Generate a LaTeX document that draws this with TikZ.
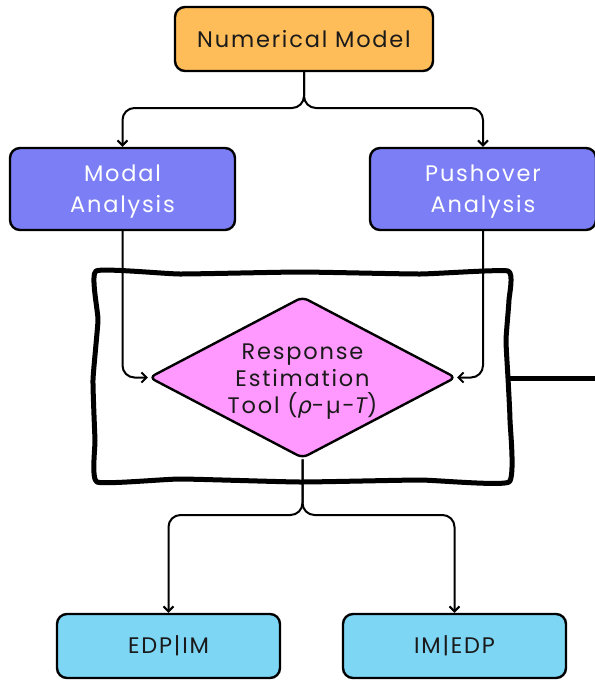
\documentclass[tikz,border=0pt]{standalone}
\usepackage{fontspec}
\setmainfont{Poppins}[LetterSpace=8]
\newfontfamily\greekfont{DejaVu Sans}[LetterSpace=8]
\usetikzlibrary{shapes.geometric,arrows.meta}

\definecolor{modelfill}{HTML}{FFBD59}
\definecolor{analysisfill}{HTML}{7B7EF4}
\definecolor{toolfill}{HTML}{FF99FF}
\definecolor{outfill}{HTML}{7ED6F5}
\definecolor{ink}{HTML}{1A1A1A}

% raises the top of the first line so that the block sits a bit lower
\newcommand{\toppad}[1]{\rule{0pt}{#1}}

\tikzset{
  box/.style={draw=black, line width=2.4pt, rounded corners=10pt, inner sep=0pt,
    align=center, text=ink, font=\fontsize{22.5}{31}\selectfont},
  modelbox/.style={box, fill=modelfill},
  analysisbox/.style={box, fill=analysisfill, text=white},
  outbox/.style={box, fill=outfill},
  toolbox/.style={draw=black, line width=2.4pt, shape=diamond, aspect=1.9,
    rounded corners=6pt, inner sep=0pt, fill=toolfill, align=center, text=ink,
    font=\fontsize{22.5}{27}\selectfont},
  link/.style={draw=black, line width=2pt, rounded corners=12pt,
    -{Straight Barb[length=5pt,width=10pt,line width=2pt]}},
  frame/.style={draw=black, line width=5pt, line join=round},
}

\begin{document}
\begin{tikzpicture}[x=1pt,y=-1pt]
\useasboundingbox (0,0) rectangle (595,681);

% hand-drawn frame around the estimation tool
\draw[frame] plot[smooth cycle, tension=0.25] coordinates {
  (96,271) (180,274) (300,272) (420,274) (508,271)
  (509,300) (506,340) (508,378) (510,420) (509,482)
  (420,480) (300,482) (180,479) (97,482)
  (95,440) (93,380) (98,320)};
\coordinate (frameR) at (508,378);
\coordinate (edge) at (595,378);
\draw[frame, line cap=butt] (frameR) -- (edge);

% nodes
\node[modelbox, minimum width=258pt, minimum height=64pt] (model) at (304,39) {Numerical Model};
\node[analysisbox, minimum width=225pt, minimum height=82pt] (modal) at (122.5,189) {\toppad{21pt}Modal\\Analysis};
\node[analysisbox, minimum width=226pt, minimum height=82pt] (push) at (483,189) {\toppad{21pt}Pushover\\Analysis};
\node[toolbox, minimum width=305pt, minimum height=161pt] (tool) at (302.5,377.5)
  {\toppad{23pt}Response\\Estimation\\Tool ({\greekfont\itshape ρ}-µ-{\itshape T})};
\node[outbox, minimum width=223pt, minimum height=64pt] (edpim) at (168.5,646) {EDP|IM};
\node[outbox, minimum width=223pt, minimum height=64pt] (imedp) at (454.5,646) {IM|EDP};

% connectors
\coordinate (splitTop) at (model.south |- 0,108);
\draw[link] (model.south) -- (splitTop) -- (splitTop -| modal.north) -- (modal.north);
\draw[link] (model.south) -- (splitTop) -- (splitTop -| push.north) -- (push.north);
\draw[link] (modal.south) |- (tool.west);
\draw[link] (push.south) |- (tool.east);
\coordinate (splitBot) at (tool.south |- 0,515);
\draw[link] (tool.south) -- (splitBot) -- (splitBot -| edpim.north) -- (edpim.north);
\draw[link] (tool.south) -- (splitBot) -- (splitBot -| imedp.north) -- (imedp.north);
\end{tikzpicture}
\end{document}
